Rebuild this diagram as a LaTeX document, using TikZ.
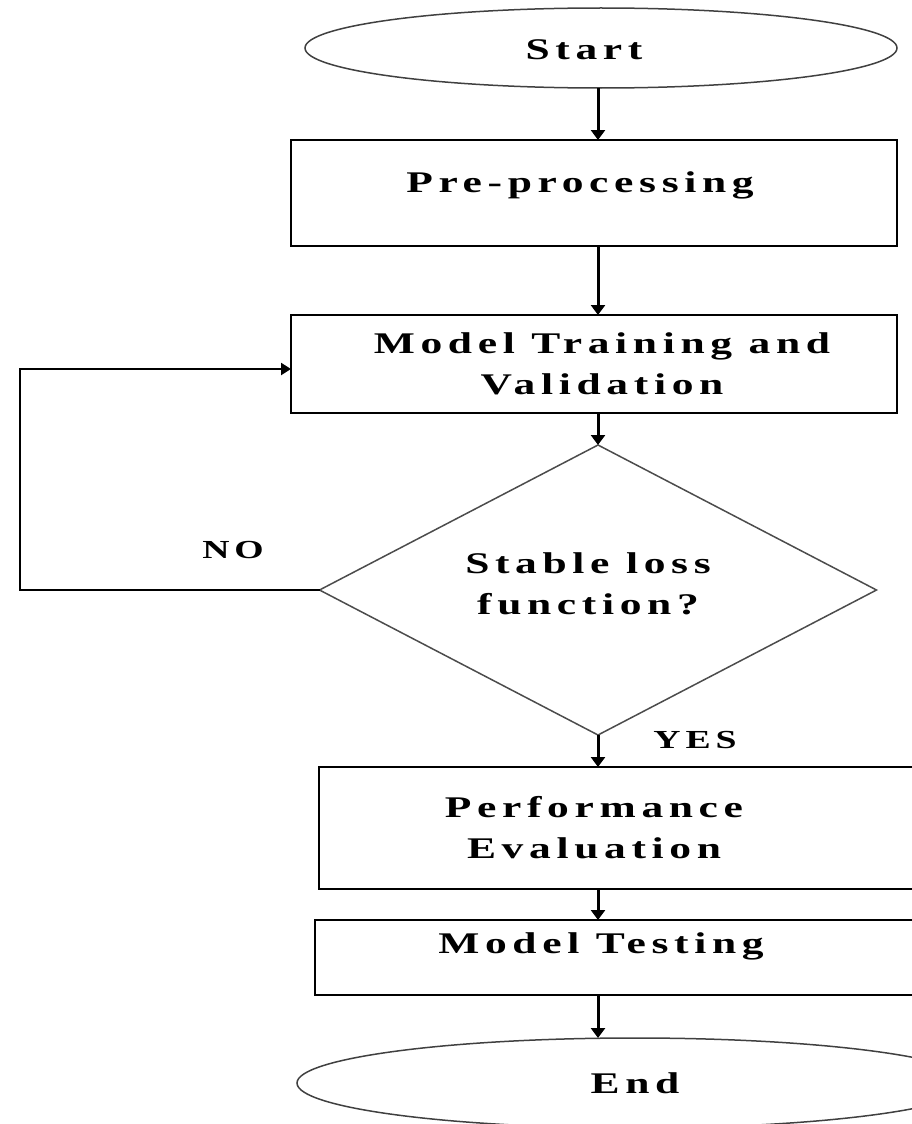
\documentclass[tikz,border=0pt]{standalone}
\usepackage{fontspec}
\usepackage{graphicx}
\setmainfont{Liberation Serif}[LetterSpace=13]
\usetikzlibrary{shapes.geometric, arrows.meta}
% wide, spaced lettering of the chart
\newcommand{\wideline}[1]{\scalebox{1.45}[1]{\bfseries #1}}

\begin{document}
\begin{tikzpicture}[x=1pt, y=-1pt,
  base/.style={font=\fontsize{30}{41}\selectfont, align=center, inner sep=0pt, outer sep=0pt},
  proc/.style={base, draw, line width=2.8pt, rectangle},
  term/.style={base, draw=black!75, line width=1.5pt, ellipse},
  decide/.style={base, draw=black!70, line width=1.5pt, diamond},
  flow/.style={line width=3pt, -{Triangle[length=10pt, width=14pt]}},
  backflow/.style={line width=2.2pt, -{Triangle[length=10pt, width=12pt]}},
  tag/.style={font=\fontsize{26}{30}\selectfont, inner sep=0pt}
]
\useasboundingbox (0,0) rectangle (912,1124);

% column of the main flow
\coordinate (spine) at (598,0);
\coordinate (loopx) at (20,0);

% terminals, steps and the decision
\node[term, minimum width=592pt, minimum height=80pt,
      label={[base, xshift=-17pt, yshift=-2pt]center:\wideline{Start}}] (start) at (601,48) {};
\node[proc, minimum width=606pt, minimum height=106pt,
      label={[base, xshift=-14pt, yshift=8pt]center:\wideline{Pre-processing}}] (pre) at (594,193) {};
\node[proc, minimum width=606pt, minimum height=98pt,
      label={[base, xshift=8pt]center:\wideline{Model Training and}\\\wideline{Validation}}] (train) at (594,364) {};
\node[decide, minimum width=557pt, minimum height=290pt,
      label={[base, xshift=-10pt, yshift=6pt]center:\wideline{Stable loss}\\\wideline{function?}}] (dec) at (598,590) {};
\node[proc, minimum width=596pt, minimum height=122pt,
      label={[base, xshift=-23pt]center:\wideline{Performance}\\\wideline{Evaluation}}] (perf) at (617,828) {};
\node[proc, minimum width=600pt, minimum height=75pt,
      label={[base, xshift=-14pt, yshift=11pt]center:\wideline{Model Testing}}] (test) at (615,957.5) {};
\node[term, minimum width=676pt, minimum height=90pt,
      label={[base]center:\wideline{End}}] (end) at (635,1083) {};

% branch labels
\node[tag] (no) at (233,550) {\wideline{NO}};
\node[tag] (yes) at (695,740) {\wideline{YES}};

% connectors
\draw[flow] (spine |- start.south) -- (spine |- pre.north);
\draw[flow] (spine |- pre.south) -- (spine |- train.north);
\draw[flow] (spine |- train.south) -- (spine |- dec.north);
\draw[flow] (spine |- dec.south) -- (spine |- perf.north);
\draw[flow] (spine |- perf.south) -- (spine |- test.north);
\draw[flow] (spine |- test.south) -- (spine |- end.north);
\draw[backflow] (dec.west) -- (dec.west -| loopx) |- ([yshift=-5pt]train.west);
\end{tikzpicture}
\end{document}
